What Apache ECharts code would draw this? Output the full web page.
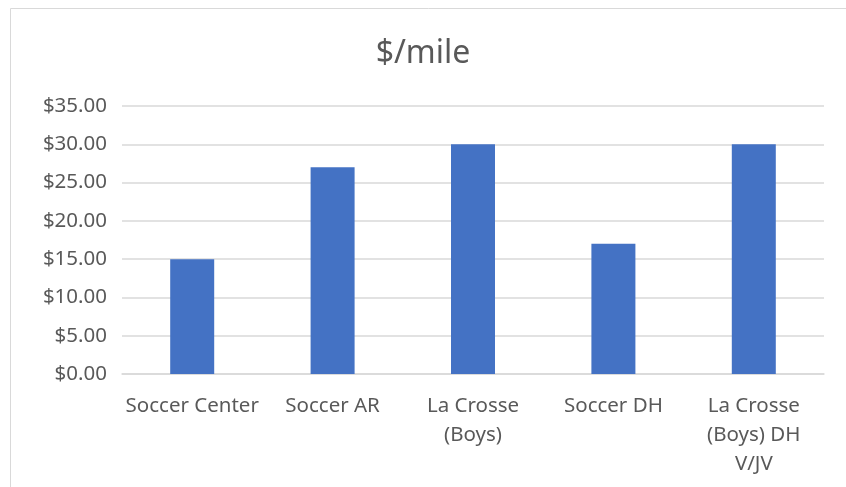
<!DOCTYPE html>
<html>
<head>
<meta charset="utf-8">
<script src="https://cdn.jsdelivr.net/npm/echarts@6/dist/echarts.min.js"></script>
<style>
  html, body { margin: 0; padding: 0; background: #fff; }
</style>
</head>
<body>
<div id="main" style="width: 846px;height:487px;"></div>
<script>
// data
var categories = ['Soccer Center', 'Soccer AR', 'La Crosse\n(Boys)', 'Soccer DH', 'La Crosse\n(Boys) DH\nV/JV'];
var costPerMile = [15, 27, 30, 17, 30];

var myChart = echarts.init(document.getElementById('main'));
var option = {
  animation: false,
  color: ['#4472C4'],
  textStyle: { fontFamily: 'Noto Sans' },
  title: {
    text: '$/mile',
    left: 'center',
    top: 33,
    textStyle: { fontSize: 32, fontWeight: 'normal', color: '#595959', fontFamily: 'Noto Sans' }
  },
  graphic: [{
    type: 'rect',
    shape: { x: 10.5, y: 8.5, width: 900, height: 600 },
    style: { fill: 'none', stroke: '#d9d9d9', lineWidth: 1 },
    silent: true
  }],
  grid: { left: 122, right: 22, top: 106, bottom: 113 },
  xAxis: {
    type: 'category',
    data: categories,
    axisLine: { lineStyle: { color: '#d9d9d9', width: 1.5 } },
    axisTick: { show: false },
    axisLabel: { color: '#595959', fontSize: 20.5, lineHeight: 29, margin: 18, interval: 0 }
  },
  yAxis: {
    type: 'value',
    min: 0,
    max: 35,
    interval: 5,
    axisLine: { show: false },
    axisTick: { show: false },
    splitLine: { lineStyle: { color: '#d9d9d9', width: 1.5 } },
    axisLabel: {
      color: '#595959',
      fontSize: 20.5,
      margin: 15,
      formatter: function (v) { return '$' + v.toFixed(2); }
    }
  },
  series: [{
    name: '$/mile',
    type: 'bar',
    data: costPerMile,
    barWidth: 44
  }]
};
myChart.setOption(option);
</script>
</body>
</html>
